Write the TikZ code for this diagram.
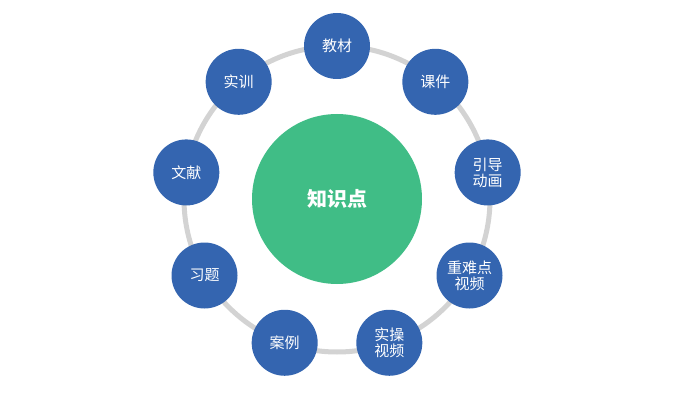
\documentclass[tikz,border=0pt]{standalone}
\usepackage{fontspec}
\setmainfont{Noto Sans CJK SC}
\usetikzlibrary{positioning,calc}
\definecolor{kpblue}{HTML}{3465B0}
\definecolor{kpgreen}{HTML}{40BD86}
\definecolor{kpring}{HTML}{D3D3D3}
\tikzset{
  leaf/.style={circle,fill=kpblue,minimum size=66pt,inner sep=0pt,text=white,
    font=\fontsize{15}{16}\selectfont,align=center},
  core/.style={circle,fill=kpgreen,minimum size=170pt,inner sep=0pt,text=white,
    font=\fontsize{20}{22}\selectfont\bfseries}
}
\begin{document}
\begin{tikzpicture}[x=1pt,y=1pt]
  \useasboundingbox (0,0) rectangle (677,413);

  % ---- Ring and centre ----------------------------------------
  \coordinate (centre) at (337,214);
  \draw[kpring,line width=5pt] (centre) circle (153);
  \node[core] (kp) at (centre) {知识点};

  % ---- Resource circles ---------------------------------------
  \foreach \ang/\name/\txt in {90/jc/教材, 50/kj/课件, 10/yd/引导\\动画,
      -30/zn/重难点\\视频, -70/sc/实操\\视频, -110/al/案例, -150/xt/习题,
      170/wx/文献, 130/sx/实训}
    \node[leaf] (\name) at ($(centre)+(\ang:153)$) {\txt};
\end{tikzpicture}
\end{document}
